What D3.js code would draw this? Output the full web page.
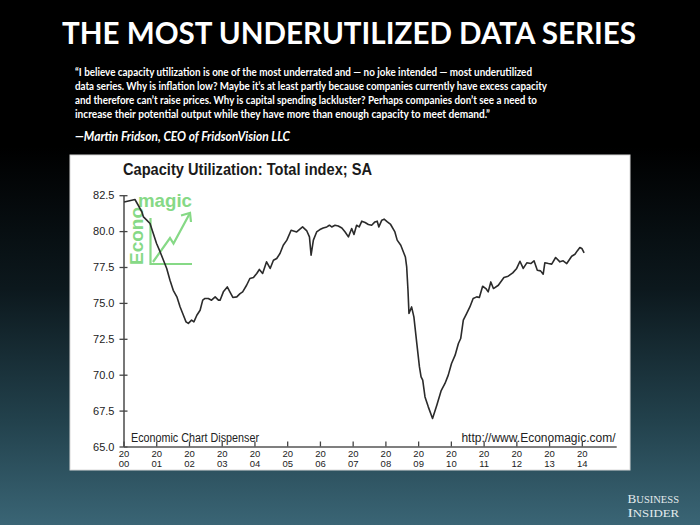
<!DOCTYPE html>
<html>
<head>
<meta charset="utf-8">
<script src="https://cdn.jsdelivr.net/npm/d3@7"></script>
<style>
  html, body { margin: 0; padding: 0; background: #000; }
  svg { display: block; }
</style>
</head>
<body>
<svg id="chart" width="700" height="525"></svg>
<script>
// ---------- DATA ----------
const pageTitle = "THE MOST UNDERUTILIZED DATA SERIES";
const quoteLines = [
  "\u201CI believe capacity utilization is one of the most underrated and \u2014 no joke intended \u2014 most underutilized",
  "data series. Why is inflation low? Maybe it\u2019s at least partly because companies currently have excess capacity",
  "and therefore can\u2019t raise prices. Why is capital spending lackluster? Perhaps companies don\u2019t see a need to",
  "increase their potential output while they have more than enough capacity to meet demand.\u201D"
];
const attribution = "\u2014Martin Fridson, CEO of FridsonVision LLC";
const chartTitle = "Capacity Utilization: Total index; SA";
const sourceLeft = "Economic Chart Dispenser";
const sourceRight = "http://www.Economagic.com/";

const yTicks = [65.0, 67.5, 70.0, 72.5, 75.0, 77.5, 80.0, 82.5];
const xTicks = [2000,2001,2002,2003,2004,2005,2006,2007,2008,2009,2010,2011,2012,2013,2014];

const years = [
  2000.02, 2000.35, 2000.45, 2000.56, 2000.61, 2000.71, 2000.81, 2000.91, 2001.01, 2001.12,
  2001.22, 2001.32, 2001.42, 2001.52, 2001.63, 2001.73, 2001.83, 2001.91, 2001.98, 2002.08,
  2002.15, 2002.24, 2002.34, 2002.42, 2002.49, 2002.59, 2002.69, 2002.80, 2002.90, 2002.95,
  2003.05, 2003.17, 2003.25, 2003.34, 2003.46, 2003.56, 2003.64, 2003.76, 2003.86, 2003.97,
  2004.07, 2004.15, 2004.25, 2004.37, 2004.48, 2004.58, 2004.68, 2004.78, 2004.88, 2004.99,
  2005.12, 2005.29, 2005.47, 2005.60, 2005.68, 2005.73, 2005.80, 2005.90, 2006.00, 2006.10,
  2006.21, 2006.29, 2006.36, 2006.46, 2006.56, 2006.67, 2006.77, 2006.87, 2006.97, 2007.04,
  2007.12, 2007.20, 2007.28, 2007.38, 2007.48, 2007.58, 2007.68, 2007.75, 2007.80, 2007.89,
  2007.96, 2008.06, 2008.16, 2008.29, 2008.36, 2008.47, 2008.55, 2008.61, 2008.65, 2008.69,
  2008.72, 2008.80, 2008.87, 2008.96, 2009.04, 2009.09, 2009.14, 2009.21, 2009.31, 2009.44,
  2009.57, 2009.70, 2009.82, 2009.92, 2010.02, 2010.13, 2010.23, 2010.30, 2010.38, 2010.48,
  2010.58, 2010.68, 2010.79, 2010.87, 2010.97, 2011.07, 2011.14, 2011.22, 2011.30, 2011.45,
  2011.62, 2011.75, 2011.89, 2012.01, 2012.11, 2012.21, 2012.32, 2012.44, 2012.54, 2012.64,
  2012.74, 2012.82, 2012.87, 2012.98, 2013.08, 2013.20, 2013.33, 2013.43, 2013.54, 2013.69,
  2013.79, 2013.86, 2013.94, 2014.00, 2014.07
];
const utilization = [
  82.03, 82.20, 81.80, 81.34, 80.99, 80.76, 80.53, 79.83, 79.14, 78.55,
  77.97, 77.40, 76.58, 75.88, 75.42, 74.72, 74.14, 73.68, 73.57, 73.80,
  73.68, 74.14, 74.49, 75.19, 75.31, 75.31, 75.19, 75.42, 75.19, 75.19,
  75.77, 76.11, 75.77, 75.38, 75.42, 75.65, 75.77, 76.23, 76.70, 76.77,
  77.05, 77.33, 77.05, 77.86, 77.40, 77.97, 78.09, 78.44, 79.02, 79.37,
  80.06, 79.94, 80.29, 80.01, 79.60, 78.32, 79.37, 79.94, 80.11, 80.22,
  80.29, 80.41, 80.29, 80.41, 80.36, 80.22, 79.94, 79.60, 80.18, 79.76,
  80.41, 80.29, 80.69, 80.60, 80.46, 80.41, 80.64, 80.69, 80.29, 80.76,
  80.83, 80.64, 80.46, 79.94, 79.37, 79.02, 78.55, 78.20, 77.51, 75.88,
  74.26, 74.72, 74.03, 72.17, 70.54, 69.85, 69.62, 68.45, 67.76, 66.95,
  67.88, 68.87, 69.39, 69.97, 70.78, 71.36, 72.17, 72.52, 73.80, 74.26,
  74.72, 75.31, 75.42, 75.38, 76.16, 76.00, 75.77, 76.46, 76.00, 76.23,
  76.77, 76.86, 77.09, 77.40, 77.90, 77.40, 77.79, 77.74, 77.93, 77.28,
  77.23, 77.00, 77.79, 77.74, 77.70, 78.16, 77.86, 77.93, 77.74, 78.25,
  78.39, 78.62, 78.86, 78.79, 78.48
];

// ---------- DRAW ----------
const svg = d3.select("#chart");
const defs = svg.append("defs");
const grad = defs.append("linearGradient").attr("id", "bg").attr("x1", 0).attr("y1", 0).attr("x2", 0).attr("y2", 1);
[["0%", "#000000"], ["28%", "#000000"], ["55%", "#0c181d"], ["80%", "#22414c"], ["100%", "#3a6575"]]
  .forEach(([o, c]) => grad.append("stop").attr("offset", o).attr("stop-color", c));
svg.append("rect").attr("width", 700).attr("height", 525).attr("fill", "url(#bg)");

// Page title
svg.append("text")
  .attr("x", 349).attr("y", 44)
  .attr("text-anchor", "middle")
  .attr("fill", "#ffffff")
  .attr("font-family", "Lato, 'Open Sans', sans-serif")
  .attr("font-weight", "bold")
  .attr("font-size", 30)
  .attr("textLength", 574).attr("lengthAdjust", "spacingAndGlyphs")
  .text(pageTitle);

// Quote
const quoteWidths = [457, 472, 462, 415];
svg.append("g").selectAll("text").data(quoteLines).join("text")
  .attr("x", 75)
  .attr("y", (d, i) => 76 + i * 14)
  .attr("fill", "#ffffff")
  .attr("font-family", "Lato, 'Open Sans', sans-serif")
  .attr("font-weight", "bold")
  .attr("font-size", 11.5)
  .attr("textLength", (d, i) => quoteWidths[i]).attr("lengthAdjust", "spacingAndGlyphs")
  .text(d => d);

svg.append("text")
  .attr("x", 75).attr("y", 141)
  .attr("fill", "#ffffff")
  .attr("font-family", "Lato, 'Open Sans', sans-serif")
  .attr("font-weight", "bold")
  .attr("font-style", "italic")
  .attr("font-size", 14)
  .attr("textLength", 215).attr("lengthAdjust", "spacingAndGlyphs")
  .text(attribution);

// Chart panel
svg.append("rect")
  .attr("x", 70).attr("y", 155).attr("width", 560).attr("height", 315)
  .attr("fill", "#ffffff").attr("stroke", "#d8d8d8").attr("stroke-width", 1);

svg.append("text")
  .attr("x", 123).attr("y", 175)
  .attr("fill", "#1a1a1a")
  .attr("font-family", "'Liberation Sans', Arial, sans-serif")
  .attr("font-weight", "bold")
  .attr("font-size", 16)
  .attr("textLength", 249).attr("lengthAdjust", "spacingAndGlyphs")
  .text(chartTitle);

// Scales
const x = d3.scaleLinear().domain([2000, 2015.05]).range([123.5, 616.2]);
const y = d3.scaleLinear().domain([65, 82.5]).range([446.5, 195.2]);

// Economagic logo (light green)
const logo = svg.append("g").attr("fill", "none").attr("stroke", "#86d986").attr("stroke-width", 2.2);
logo.append("path").attr("d", "M150.5,218 L150.5,264 L192,264");
logo.append("path").attr("d", "M153,262 L170,238 L173.5,243.5 L190,213");
logo.append("path").attr("d", "M181,215.5 L190,213 L191,222");
svg.append("text")
  .attr("x", 138).attr("y", 207)
  .attr("fill", "#86d986")
  .attr("font-family", "'Liberation Sans', Arial, sans-serif")
  .attr("font-weight", "bold").attr("font-size", 19)
  .attr("textLength", 54).attr("lengthAdjust", "spacingAndGlyphs")
  .text("magic");
svg.append("text")
  .attr("transform", "translate(143,265) rotate(-90)")
  .attr("fill", "#86d986")
  .attr("font-family", "'Liberation Sans', Arial, sans-serif")
  .attr("font-weight", "bold").attr("font-size", 19)
  .text("Econo");

// Y axis
const yAxis = d3.axisLeft(y).tickValues(yTicks).tickFormat(d3.format(".1f")).tickSize(4).tickSizeOuter(0).tickPadding(5);
const gy = svg.append("g").attr("transform", "translate(123.5,0)").call(yAxis);
gy.select(".domain").attr("stroke", "#555").attr("stroke-width", 1.6);
gy.selectAll(".tick line").attr("x1", 4).attr("stroke", "#444").attr("stroke-width", 1.3);
gy.selectAll(".tick text")
  .attr("fill", "#222")
  .attr("font-family", "'Liberation Sans', Arial, sans-serif")
  .attr("font-size", 11);

// X axis: two-line year labels ("20" over "00")
const xAxis = d3.axisBottom(x).tickValues(xTicks).tickSize(-5).tickSizeOuter(0).tickFormat(d => String(d).slice(0, 2));
const gx = svg.append("g").attr("transform", "translate(0,446.5)").call(xAxis);
gx.select(".domain").attr("stroke", "#555").attr("stroke-width", 1.6);
gx.selectAll(".tick line").attr("stroke", "#444").attr("stroke-width", 1.3);
gx.selectAll(".tick text")
  .attr("y", 10.5).attr("dy", null)
  .attr("fill", "#222")
  .attr("font-family", "'Liberation Sans', Arial, sans-serif")
  .attr("font-size", 9.5);
gx.selectAll(".tick").append("text")
  .attr("y", 20.5)
  .attr("text-anchor", "middle")
  .attr("fill", "#222")
  .attr("font-family", "'Liberation Sans', Arial, sans-serif")
  .attr("font-size", 9.5)
  .text(d => String(d).slice(2));

// Source notes
svg.append("text")
  .attr("x", 131).attr("y", 442)
  .attr("fill", "#222")
  .attr("font-family", "'Liberation Sans', Arial, sans-serif")
  .attr("font-size", 12)
  .attr("textLength", 128).attr("lengthAdjust", "spacingAndGlyphs")
  .text(sourceLeft);
svg.append("text")
  .attr("x", 615.5).attr("y", 442)
  .attr("text-anchor", "end")
  .attr("fill", "#222")
  .attr("font-family", "'Liberation Sans', Arial, sans-serif")
  .attr("font-size", 12)
  .text(sourceRight);

// Data line
const series = years.map((yr, i) => ({ yr, v: utilization[i] }));
svg.append("path")
  .datum(series)
  .attr("fill", "none")
  .attr("stroke", "#2b2b2b")
  .attr("stroke-width", 1.6)
  .attr("stroke-linejoin", "round")
  .attr("d", d3.line().x(d => x(d.yr)).y(d => y(d.v)));

// Business Insider logo
const bi = svg.append("g")
  .attr("fill", "#e4ebee")
  .attr("font-family", "'Liberation Serif', 'DejaVu Serif', serif");
[["B", "USINESS", 503], ["I", "NSIDER", 517]].forEach(([a, b, yy]) => {
  const t = bi.append("text").attr("x", 627.5).attr("y", yy)
    .attr("textLength", 51.5).attr("lengthAdjust", "spacingAndGlyphs");
  t.append("tspan").attr("font-size", 12.5).text(a);
  t.append("tspan").attr("font-size", 10).text(b);
});
</script>
</body>
</html>
